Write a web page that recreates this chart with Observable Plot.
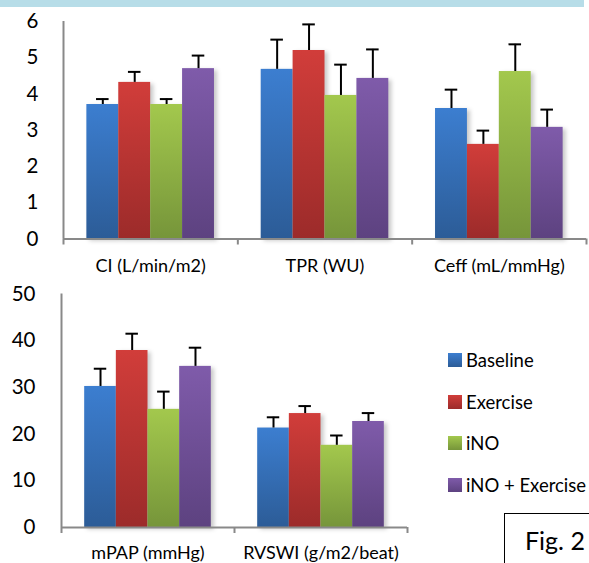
<!DOCTYPE html>
<html>
<head>
<meta charset="utf-8">
<script src="https://cdn.jsdelivr.net/npm/d3@7"></script>
<script src="https://cdn.jsdelivr.net/npm/@observablehq/plot@0.6"></script>
<style>
  html, body { margin: 0; padding: 0; background: #fff; }
  #wrap { position: relative; width: 589px; height: 563px; overflow: hidden; background: #fff; font-family: Lato, "Open Sans", sans-serif; color: #000; }
  #topband { position: absolute; left: 0; top: 0; width: 584px; height: 7px; background: #b7dde8; }
  .panel { position: absolute; left: 0; }
  .panel svg g[aria-label="rect"] { filter: drop-shadow(3px 2px 2px rgba(0,0,0,0.22)); }
  #legend { position: absolute; left: 448px; top: 0; }
  .lg { position: absolute; left: 0; white-space: nowrap; font-size: 18.5px; line-height: 18px; }
  .lg span.sw { position: absolute; left: 0; top: 2px; width: 14px; height: 14px; }
  .lg span.tx { position: absolute; left: 18px; top: 0; }
  #fig { position: absolute; left: 504px; top: 513px; width: 120px; height: 80px; border: 1.5px solid #000; box-sizing: border-box; }
  #figtx { position: absolute; left: 525px; top: 525px; font-size: 25px; line-height: 30px; }
</style>
</head>
<body>
<svg width="0" height="0" style="position:absolute">
  <defs id="grads"></defs>
</svg>
<div id="wrap">
  <div id="topband"></div>
  <div id="top" class="panel" style="top:0px"></div>
  <div id="bottom" class="panel" style="top:285px"></div>
  <div id="legend"></div>
  <div id="fig"></div>
  <div id="figtx">Fig. 2</div>
</div>
<script>
// ---- data ----
const seriesNames = ["Baseline", "Exercise", "iNO", "iNO + Exercise"];
const seriesTop = ["#3c7ed0", "#d13d3a", "#a3c84d", "#7f5baa"];
const seriesBottom = ["#2c5c97", "#9c2b2a", "#76953a", "#5d4280"];

const topCategories = ["CI (L/min/m2)", "TPR (WU)", "Ceff (mL/mmHg)"];
const topMeans = [
  [3.71, 4.32, 3.71, 4.70],
  [4.68, 5.20, 3.96, 4.43],
  [3.60, 2.61, 4.62, 3.08]
];
const topErrors = [
  [0.15, 0.29, 0.15, 0.36],
  [0.82, 0.72, 0.85, 0.80],
  [0.52, 0.38, 0.75, 0.49]
];
const topTicks = [0, 1, 2, 3, 4, 5, 6];

const bottomCategories = ["mPAP (mmHg)", "RVSWI (g/m2/beat)"];
const bottomMeans = [
  [30.2, 37.9, 25.3, 34.5],
  [21.3, 24.4, 17.6, 22.7]
];
const bottomErrors = [
  [3.8, 3.6, 3.8, 4.0],
  [2.3, 1.6, 2.1, 1.8]
];
const bottomTicks = [0, 10, 20, 30, 40, 50];

// ---- gradients ----
const defs = document.getElementById("grads");
const ns = "http://www.w3.org/2000/svg";
seriesNames.forEach((s, j) => {
  const g = document.createElementNS(ns, "linearGradient");
  g.setAttribute("id", "grad" + j);
  g.setAttribute("x1", "0"); g.setAttribute("y1", "0");
  g.setAttribute("x2", "0"); g.setAttribute("y2", "1");
  [[0, seriesTop[j]], [1, seriesBottom[j]]].forEach(([o, c]) => {
    const st = document.createElementNS(ns, "stop");
    st.setAttribute("offset", o);
    st.setAttribute("stop-color", c);
    g.appendChild(st);
  });
  defs.appendChild(g);
});
const gradUrls = seriesNames.map((s, j) => `url(#grad${j})`);

const AXIS = "#898989";
const BW = 0.183;               // bar width as a fraction of a group
const PAD = (1 - 4 * BW) / 2;
const CAP = 0.036;

function panel(el, {categories, means, errors, ticks, yMax, width, height, mt, mb, ml, mr, tickPad, catPad}) {
  const rows = categories.flatMap((c, i) => seriesNames.map((s, j) => ({
    i, j, series: s, value: means[i][j], upper: means[i][j] + errors[i][j]
  })));
  const x1 = d => d.i + PAD + d.j * BW;
  const x2 = d => d.i + PAD + (d.j + 1) * BW;
  const xc = d => d.i + PAD + (d.j + 0.5) * BW;
  const chart = Plot.plot({
    width, height,
    marginTop: mt, marginBottom: mb, marginLeft: ml, marginRight: mr,
    x: {domain: [0, categories.length]},
    y: {domain: [0, yMax]},
    color: {domain: seriesNames, range: gradUrls},
    style: {fontFamily: "Lato, 'Open Sans', sans-serif", color: "#000", background: "transparent", overflow: "visible"},
    marks: [
      Plot.rect(rows, {x1, x2, y1: d => 0, y2: "value", fill: "series"}),
      Plot.ruleX(rows, {x: xc, y1: "value", y2: "upper", stroke: "#000", strokeWidth: 2}),
      Plot.ruleY(rows, {y: "upper", x1: d => xc(d) - CAP, x2: d => xc(d) + CAP, stroke: "#000", strokeWidth: 2}),
      Plot.ruleX([0], {stroke: AXIS, strokeWidth: 2}),
      Plot.ruleY([0], {stroke: AXIS, strokeWidth: 2}),
      Plot.axisY({ticks, tickSize: 0, tickPadding: tickPad, fontSize: 20.5, fill: "#000", tickFormat: d => String(d)}),
      Plot.axisX({ticks: d3.range(0, categories.length + 1), tickSize: 6, stroke: AXIS, strokeWidth: 2, tickFormat: () => ""}),
      Plot.axisX({ticks: categories.map((c, i) => i + 0.5), tickSize: 0, tickPadding: catPad, fontSize: 18, fill: "#000",
                  tickFormat: d => categories[Math.floor(d)]})
    ]
  });
  el.appendChild(chart);
}

panel(document.getElementById("top"), {
  categories: topCategories, means: topMeans, errors: topErrors, ticks: topTicks, yMax: 6,
  width: 589, height: 290, mt: 21, mb: 51.5, ml: 63, mr: 3, tickPad: 25, catPad: 20
});
panel(document.getElementById("bottom"), {
  categories: bottomCategories, means: bottomMeans, errors: bottomErrors, ticks: bottomTicks, yMax: 50,
  width: 589, height: 278, mt: 8.5, mb: 36, ml: 61, mr: 182, tickPad: 26, catPad: 18.5
});

// legend
const legend = document.getElementById("legend");
const legendY = [360, 401.5, 443, 484.5];
seriesNames.forEach((s, j) => {
  const item = document.createElement("div");
  item.className = "lg";
  item.style.top = (legendY[j] - 9) + "px";
  const sw = document.createElement("span");
  sw.className = "sw";
  sw.style.background = `linear-gradient(${seriesTop[j]}, ${seriesBottom[j]})`;
  const tx = document.createElement("span");
  tx.className = "tx";
  tx.textContent = s;
  item.appendChild(sw); item.appendChild(tx);
  legend.appendChild(item);
});
</script>
</body>
</html>
